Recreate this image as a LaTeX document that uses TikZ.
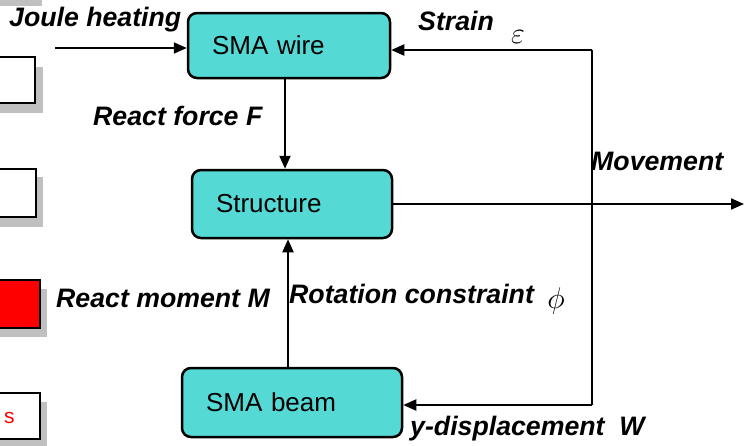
\documentclass[tikz,border=0pt]{standalone}
\usepackage{fix-cm}
\usepackage{fontspec}
\setmainfont{Liberation Sans}
\usetikzlibrary{arrows.meta}
\definecolor{turq}{RGB}{85,217,213}
\definecolor{shade}{RGB}{192,192,192}
\begin{document}
\begin{tikzpicture}[x=1pt,y=-1pt,
  blk/.style={draw=black,line width=2.5pt,rounded corners=9pt,fill=turq,
    inner xsep=24pt,inner ysep=0pt,anchor=center,align=left,
    font=\fontsize{26}{30}\selectfont},
  arr/.style={line width=2pt,-{Triangle[length=13pt,width=11pt]}},
  ln/.style={line width=2pt},
  lbl/.style={font=\bfseries\itshape\fontsize{26.7}{30}\selectfont,inner sep=0pt,anchor=base west},
  greek/.style={font=\fontsize{30}{34}\selectfont,inner sep=0pt,anchor=center},
  side/.style={draw=black,line width=2.5pt},
  shadow/.style={fill=shade,draw=none}]
\useasboundingbox (0,0) rectangle (744,445);
\clip (0,0) rectangle (744,445);
\fill[white] (0,0) rectangle (744,445);

% left partial boxes with shadows
\fill[shadow] (-20,-60) rectangle (42,6);
\fill[shadow] (-10,67) rectangle (43,113);
\draw[side,fill=white] (-20,57) rectangle (35,103);
\fill[shadow] (-10,177) rectangle (43,227);
\draw[side,fill=white] (-20,169) rectangle (36,217);
\fill[shadow] (-10,289) rectangle (47,337);
\draw[side,fill=red] (-20,280) rectangle (40,328);
\fill[shadow] (-10,402) rectangle (47,460);
\draw[side,fill=white] (-20,393) rectangle (40,439);
\node[inner sep=0pt,anchor=base west,text=red,font=\fontsize{21}{24}\selectfont] (stxt) at (4,423) {s};

% main blocks
\node[blk,text width=154pt,minimum height=65pt] (wire) at (289,45.5) {SMA wire};
\node[blk,text width=152pt,minimum height=68pt] (struct) at (292,204) {Structure};
\node[blk,text width=172pt,minimum height=69pt] (beam) at (292,402.5) {SMA beam};

% coordinates
\coordinate (jin) at (55,48);
\coordinate (tr) at (592,50);
\coordinate (mr) at (592,204);
\coordinate (br) at (592,405);
\coordinate (mout) at (744,204);

% connectors
\draw[arr] (jin) -- (jin -| wire.west);
\draw[arr] (wire.south -| 285,0) -- (struct.north -| 285,0);
\draw[arr] (beam.north -| 288,0) -- (struct.south -| 288,0);
\draw[arr] (struct.east |- mout) -- (mout);
\draw[ln] (br) -- (tr);
\draw[arr] (tr) -- (tr -| wire.east);
\draw[arr] (br) -- (br -| beam.east);

% labels
\node[lbl] (ljoule) at (9,26) {Joule heating};
\node[lbl] (lforce) at (93,125) {React force F};
\node[lbl] (lstrain) at (418,30) {Strain};
\node[greek] (leps) at (518,37) {$\varepsilon$};
\node[lbl] (lmove) at (591,170) {Movement};
\node[lbl] (lmoment) at (56,307) {React moment M};
\node[lbl] (lrot) at (289,303) {Rotation constraint};
\node[greek] (lphi) at (556,301) {$\phi$};
\node[lbl] (ldisp) at (410,435) {y-displacement\ \ W};
\end{tikzpicture}
\end{document}
